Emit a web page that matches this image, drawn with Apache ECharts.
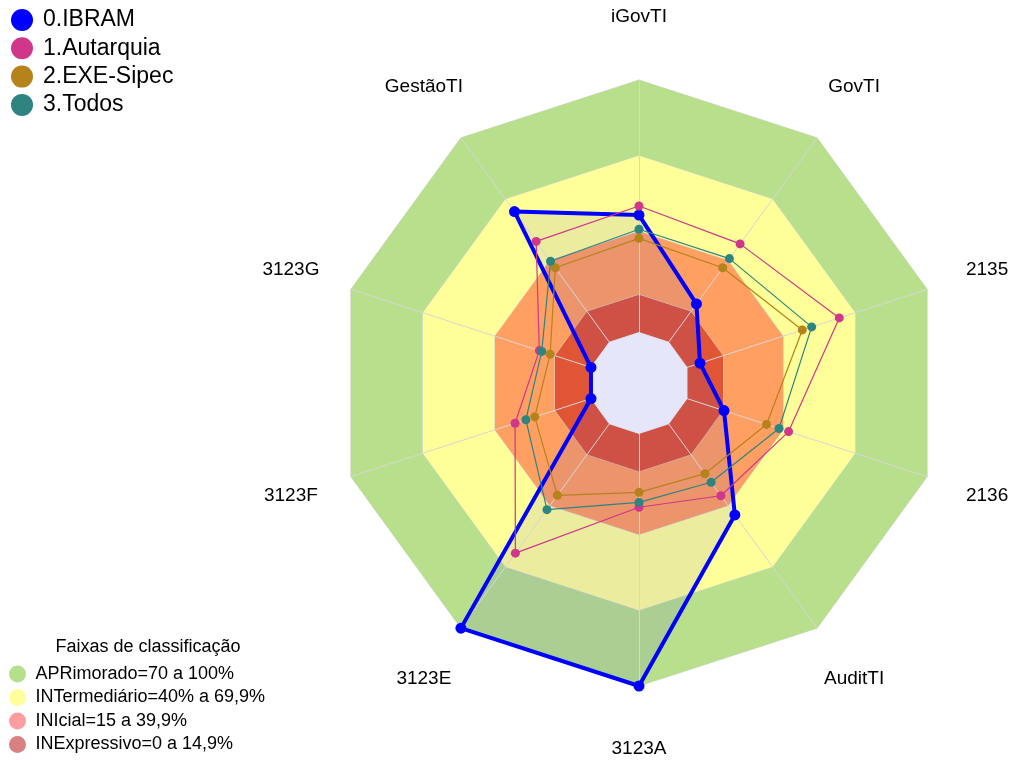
<!DOCTYPE html>
<html>
<head>
<meta charset="utf-8">
<script src="https://cdn.jsdelivr.net/npm/echarts@6/dist/echarts.min.js"></script>
<style>
  html, body { margin: 0; padding: 0; background: #fff; }
  #chart { width: 1010px; height: 760px; }
</style>
</head>
<body>
<div id="chart"></div>
<script>
// eixos na ordem do echarts (anti-horario a partir do topo)
const indicadores = ['iGovTI', 'GestãoTI', '3123G', '3123F', '3123E', '3123A', 'AuditTI', '2136', '2135', 'GovTI']

// valores (%)
const ibram = [46.5, 63.9, 0, 0, 100, 100, 44.6, 15.4, 5.4, 18.7]
const autarquia = [50.1, 49.3, 21.5, 31.6, 63.3, 29.2, 35.2, 42.3, 63.4, 48.1]
const exeSipec = [37.3, 36.4, 17.0, 23.4, 35.0, 23.3, 24.4, 33.1, 48.0, 36.4]
const todos = [40.9, 39.6, 20.5, 27.1, 42.0, 27.3, 28.6, 38.3, 51.9, 40.9]

const nomesSeries = ['0.IBRAM', '1.Autarquia', '2.EXE-Sipec', '3.Todos']
const coresSeries = ['#0000FF', '#D0368A', '#B5821B', '#2E8481']

// faixas de classificacao
const nomesFaixas = ['APRimorado=70 a 100%', 'INTermediário=40% a 69,9%', 'INIcial=15 a 39,9%', 'INExpressivo=0 a 14,9%']
const limitesFaixas = [100, 70, 40, 15]
const coresFaixas = ['#B8E08C', '#FFFF99', '#FFA062', '#E05535']
const coresLegendaFaixas = ['#B5DF8A', '#FFFF99', '#FF9E9E', '#D98080']
const limiteCentro = 0

const fonte = '"Liberation Sans", Arial, sans-serif'
const linhaGrade = '#D6D6D6'

const myChart = echarts.init(document.getElementById('chart'))

function constante(v) {
  return indicadores.map(() => v)
}

const seriesFaixas = nomesFaixas.map((nome, i) => ({
  name: nome,
  type: 'radar',
  z: 1,
  silent: true,
  symbol: 'none',
  data: [{ value: constante(limitesFaixas[i]) }],
  lineStyle: { color: linhaGrade, width: 1 },
  areaStyle: { color: coresFaixas[i], opacity: 1 },
  itemStyle: { color: coresFaixas[i] }
}))

const valores = [ibram, autarquia, exeSipec, todos]
const seriesDados = nomesSeries.map((nome, i) => ({
  name: nome,
  type: 'radar',
  z: 4,
  silent: true,
  symbol: 'circle',
  symbolSize: i === 0 ? 11 : 9,
  data: [{ value: valores[i] }],
  lineStyle: { color: coresSeries[i], width: i === 0 ? 4 : 1.2 },
  itemStyle: { color: coresSeries[i] }
}))

const option = {
  animation: false,
  textStyle: { fontFamily: fonte },
  title: {
    text: 'Faixas de classificação',
    left: 143,
    top: 633,
    textAlign: 'center',
    textStyle: { fontSize: 18, fontWeight: 'normal', color: '#000', fontFamily: fonte }
  },
  legend: [{
    data: nomesSeries.map((n, i) => ({ name: n, itemStyle: { color: coresSeries[i], borderWidth: 0 } })),
    orient: 'vertical',
    left: 11,
    top: 8,
    padding: 0,
    icon: 'circle',
    itemWidth: 32,
    itemHeight: 22,
    itemGap: 4.3,
    selectedMode: false,
    textStyle: { fontSize: 23, color: '#000', lineHeight: 24, fontFamily: fonte }
  }, {
    data: nomesFaixas.map((n, i) => ({ name: n, itemStyle: { color: coresLegendaFaixas[i], borderWidth: 0 } })),
    orient: 'vertical',
    left: 9,
    top: 664,
    padding: 0,
    height: 96,
    icon: 'circle',
    itemWidth: 26,
    itemHeight: 17,
    itemGap: 3.5,
    selectedMode: false,
    textStyle: { fontSize: 18, color: '#000', lineHeight: 20, fontFamily: fonte }
  }],
  radar: {
    center: [639, 383],
    radius: 303,
    startAngle: 90,
    shape: 'polygon',
    splitNumber: 6,
    z: 2,
    indicator: indicadores.map(n => ({ name: n, min: -20, max: 100 })),
    nameGap: 63,
    axisName: {
      color: '#000',
      fontSize: 19,
      fontFamily: fonte,
      align: 'center',
      verticalAlign: 'middle'
    },
    axisLine: { show: true, lineStyle: { color: linhaGrade, width: 1 } },
    axisTick: { show: false },
    axisLabel: { show: false },
    splitLine: { show: false },
    splitArea: { show: false }
  },
  series: [
    ...seriesFaixas,
    {
      // preenchimento translucido do IBRAM
      name: nomesSeries[0],
      type: 'radar',
      z: 1.5,
      silent: true,
      symbol: 'none',
      data: [{ value: ibram }],
      lineStyle: { width: 0, opacity: 0 },
      areaStyle: { color: 'rgba(30,30,230,0.12)' },
      itemStyle: { color: coresSeries[0] }
    },
    {
      // centro do grafico
      name: 'centro',
      type: 'radar',
      z: 3,
      silent: true,
      symbol: 'none',
      data: [{ value: constante(limiteCentro) }],
      lineStyle: { color: linhaGrade, width: 1 },
      areaStyle: { color: '#E6E6FA', opacity: 1 }
    },
    ...seriesDados
  ]
}

myChart.setOption(option)
</script>
</body>
</html>
